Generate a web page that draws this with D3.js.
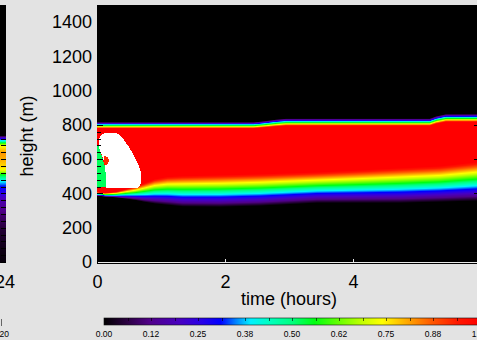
<!DOCTYPE html>
<html><head><meta charset="utf-8">
<script src="https://cdn.jsdelivr.net/npm/d3@7"></script>
<style>
html,body{margin:0;padding:0;background:#e3e3e3;overflow:hidden;}
svg{display:block;}
text{font-family:"Liberation Sans",Arial,Helvetica,sans-serif;fill:#000;}
</style></head><body>
<svg id="chart" width="477" height="340"></svg>
<script>
// ---------- data ----------
const xTicks = [0, 2, 4];
const yTicks = [0, 200, 400, 600, 800, 1000, 1200, 1400];
const cbTicks = [0, 0.125, 0.25, 0.375, 0.5, 0.625, 0.75, 0.875, 1];
const cbLabels = ["0.00", "0.12", "0.25", "0.38", "0.50", "0.62", "0.75", "0.88", "1.00"];

// colour table (value -> colour); values above 1 are drawn white
const cmapPos = [0, 0.06, 0.12, 0.2, 0.26, 0.31, 0.35, 0.39, 0.44, 0.5, 0.56, 0.63, 0.69, 0.74, 0.8, 0.87, 0.94, 1];
const cmapCol = ["#000000", "#2a0040", "#500088", "#4800c0", "#2800e8", "#0000ff", "#0080ff", "#00f0ff", "#00ffc0", "#00ff80", "#00ff10", "#70ff00", "#c8ff00", "#ffff00", "#ffb000", "#ff5a00", "#ff1800", "#ff0000"];

// plume upper boundary (hours, metres): outer edge (value 0) and core edge (value 1)
const topT = [0, 2.45, 2.62, 2.8, 2.95, 5.2, 5.3, 5.45, 6];
const topEdgeM = [817, 817, 824, 833, 838, 838, 852, 864, 864];
const topCoreM = [779, 779, 784, 790, 794, 794, 806, 817, 817];

// plume lower boundary
const botT = [0, 0.125, 0.3, 0.45, 0.6, 0.75, 0.9, 1.1, 1.34, 1.92, 2.55, 3.44, 4.11, 4.73, 5.36, 5.94, 6];
const botCoreM = [409, 403, 410, 425, 440, 462, 484, 498, 503, 508, 514, 525, 537, 549, 560, 584, 584];
const botEdgeM = [385, 380, 375, 368, 360, 349, 340, 332, 323, 321, 327, 344, 344, 344, 350, 356, 356];

// saturated (>1) region near the release
const blobT = [0.047, 0.078, 0.172, 0.297, 0.359, 0.422, 0.5, 0.578, 0.641, 0.688, 0.695, 0.672, 0.625, 0.141, 0.141, 0.125, 0.078, 0.031, 0.031];
const blobH = [730, 747, 756, 753, 741, 712, 671, 619, 572, 525, 479, 444, 429, 429, 479, 566, 625, 665, 712];
// low-concentration wedge at the left edge
const wedgeT = [0, 0.031, 0.063, 0.094, 0.125, 0.141, 0.141, 0];
const wedgeH = [690, 671, 636, 595, 554, 508, 438, 438];
const wedgeV = 0.52;
// small high spot inside the wedge
const spotT = [0.109, 0.172, 0.188, 0.156, 0.109];
const spotH = [619, 613, 589, 566, 572];
const spotV = 0.92;

// neighbouring panel (cut off at the left edge): vertical profile
const leftH = [0, 70, 187, 274, 362, 409, 444, 479, 508, 531, 549, 595, 636, 677, 695, 706, 718, 730, 736, 1500];
const leftV = [0.01, 0.02, 0.05, 0.1, 0.18, 0.27, 0.32, 0.42, 0.55, 0.7, 0.76, 0.8, 0.82, 0.74, 0.56, 0.42, 0.3, 0.15, 0, 0];

// ---------- scales ----------
const svg = d3.select("#chart");
const x = d3.scaleLinear().domain([0, 6]).range([97, 481]);
const y = d3.scaleLinear().domain([0, 1500]).range([262, 5]);
const cmap = d3.scaleLinear().domain(cmapPos).range(cmapCol).clamp(true);
const colorOf = v => v > 1 ? "#ffffff" : cmap(v);

const topEdge = d3.scaleLinear().domain(topT).range(topEdgeM).clamp(true);
const topCore = d3.scaleLinear().domain(topT).range(topCoreM).clamp(true);
const botEdge = d3.scaleLinear().domain(botT).range(botEdgeM).clamp(true);
const botCore = d3.scaleLinear().domain(botT).range(botCoreM).clamp(true);

const poly = (ts, hs) => ts.map((t, i) => [x(t), y(hs[i])]);
const blobPx = poly(blobT, blobH), wedgePx = poly(wedgeT, wedgeH), spotPx = poly(spotT, spotH);

function field(px, py) {
  const t = x.invert(px), h = y.invert(py);
  const p = [px, py];
  if (d3.polygonContains(spotPx, p)) return spotV;
  if (d3.polygonContains(blobPx, p)) return 1.1;
  if (d3.polygonContains(wedgePx, p)) return wedgeV;
  const te = topEdge(t), tc = topCore(t), be = botEdge(t), bc = botCore(t);
  const vt = (te - h) / (te - tc);
  const vb = (h - be) / (bc - be);
  return Math.max(0, Math.min(1, vt, vb));
}

// ---------- main panel ----------
const x0 = x(0), x1 = x(6), yTop = y(1500), yBot = y(0);
svg.append("rect").attr("x", x0).attr("y", yTop).attr("width", x1 - x0).attr("height", yBot - yTop + 2).attr("fill", "#000");

const W = Math.round(x1 - x0), H = Math.round(yBot - yTop);
const cv = document.createElement("canvas");
cv.width = W; cv.height = H;
const ctx = cv.getContext("2d");
const img = ctx.createImageData(W, H);
for (let j = 0; j < H; j++) {
  for (let i = 0; i < W; i++) {
    const c = d3.rgb(colorOf(field(x0 + i + 0.5, yTop + j + 0.5)));
    const k = (j * W + i) * 4;
    img.data[k] = c.r; img.data[k + 1] = c.g; img.data[k + 2] = c.b; img.data[k + 3] = 255;
  }
}
ctx.putImageData(img, 0, 0);
svg.append("image").attr("x", x0).attr("y", yTop).attr("width", W).attr("height", H)
  .attr("preserveAspectRatio", "none").attr("href", cv.toDataURL());

// left-axis ticks (black, drawn inward)
const minorY = d3.range(0, 1501, 40);
svg.append("g").selectAll("line").data(minorY).join("line")
  .attr("x1", x0).attr("x2", d => x0 + (d % 200 === 0 ? 6 : 4))
  .attr("y1", d => Math.round(y(d)) + 0.5).attr("y2", d => Math.round(y(d)) + 0.5)
  .attr("stroke", "#000").attr("stroke-width", 1);
// right-axis major ticks
svg.append("g").selectAll("line").data(yTicks).join("line")
  .attr("x1", x1).attr("x2", x1 - 7)
  .attr("y1", d => Math.round(y(d)) + 0.5).attr("y2", d => Math.round(y(d)) + 0.5)
  .attr("stroke", "#000").attr("stroke-width", 1);
// bottom axis line and ticks (light)
svg.append("line").attr("x1", x0 + 1).attr("x2", x1).attr("y1", yBot + 0.5).attr("y2", yBot + 0.5)
  .attr("stroke", "#e8e8e8").attr("stroke-width", 1);
svg.append("g").selectAll("line").data(xTicks.slice(1)).join("line")
  .attr("x1", d => Math.round(x(d)) + 0.5).attr("x2", d => Math.round(x(d)) + 0.5)
  .attr("y1", yBot).attr("y2", yBot - 3).attr("stroke", "#e8e8e8");

// axis labels via d3 axes
const gy = svg.append("g").attr("transform", `translate(${x0},0)`)
  .call(d3.axisLeft(y).tickValues(yTicks).tickSize(0).tickPadding(5).tickFormat(d3.format("d")));
gy.select(".domain").remove();
gy.selectAll("text").attr("font-size", 18).attr("font-family", "Liberation Sans, Arial, sans-serif").attr("fill", "#000");

const gx = svg.append("g").attr("transform", `translate(0,${yBot})`)
  .call(d3.axisBottom(x).tickValues(xTicks).tickSize(0).tickPadding(13).tickFormat(d3.format("d")));
gx.select(".domain").remove();
gx.selectAll("text").attr("font-size", 18).attr("font-family", "Liberation Sans, Arial, sans-serif").attr("fill", "#000");

svg.append("text").attr("x", (x0 + x1) / 2).attr("y", 305).attr("text-anchor", "middle")
  .attr("font-size", 18).text("time (hours)");
svg.append("text").attr("transform", "translate(33,136) rotate(-90)").attr("text-anchor", "middle")
  .attr("font-size", 18).text("height (m)");

// ---------- colour bar ----------
const cb = d3.scaleLinear().domain([0, 1]).range([104, 480]);
const defs = svg.append("defs");
const grad = defs.append("linearGradient").attr("id", "cbgrad").attr("x1", "0%").attr("x2", "100%").attr("y1", "0%").attr("y2", "0%");
grad.selectAll("stop").data(cmapPos).join("stop")
  .attr("offset", d => (d * 100) + "%").attr("stop-color", (d, i) => cmapCol[i]);
svg.append("rect").attr("x", cb(0)).attr("y", 318).attr("width", cb(1) - cb(0)).attr("height", 7)
  .attr("fill", "url(#cbgrad)").attr("stroke", "#111").attr("stroke-width", 0.6);
svg.append("g").selectAll("line").data(d3.range(1, 16).map(i => i / 16)).join("line")
  .attr("x1", d => Math.round(cb(d)) + 0.5).attr("x2", d => Math.round(cb(d)) + 0.5)
  .attr("y1", 318).attr("y2", 321).attr("stroke", "#000").attr("stroke-opacity", 0.6);
svg.append("g").selectAll("text").data(cbTicks).join("text")
  .attr("x", d => cb(d)).attr("y", 337).attr("text-anchor", "middle")
  .attr("font-size", 8.5).text((d, i) => cbLabels[i]);

// ---------- neighbouring panel fragment ----------
const leftScale = d3.scaleLinear().domain(leftH).range(leftV).clamp(true);
const rows = d3.range(Math.round(yTop), 263);
svg.append("g").selectAll("rect").data(rows).join("rect")
  .attr("x", 0).attr("y", d => d).attr("width", 6).attr("height", 1)
  .attr("fill", d => colorOf(leftScale(y.invert(d + 0.5))));
svg.append("g").selectAll("line").data(minorY).join("line")
  .attr("x1", 1).attr("x2", 6)
  .attr("y1", d => Math.round(y(d)) + 0.5).attr("y2", d => Math.round(y(d)) + 0.5)
  .attr("stroke", "#000").attr("stroke-width", 1);
svg.append("text").attr("x", 15).attr("y", 288).attr("text-anchor", "end").attr("font-size", 18).text("24");
svg.append("text").attr("x", 9).attr("y", 337).attr("text-anchor", "end").attr("font-size", 8.5).text("20");
svg.append("line").attr("x1", 1.5).attr("x2", 1.5).attr("y1", 319).attr("y2", 326).attr("stroke", "#666");
</script>
</body></html>
